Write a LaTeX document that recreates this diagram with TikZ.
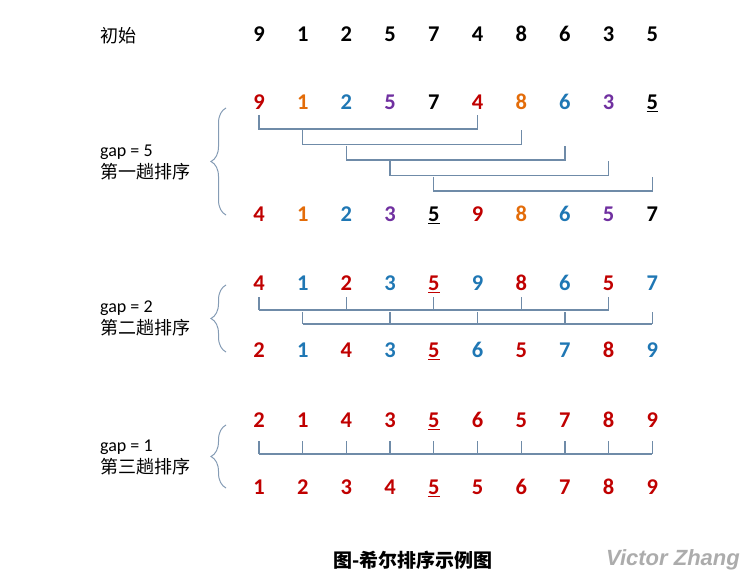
\documentclass[tikz,border=0pt]{standalone}
\usepackage{fontspec}
\setmainfont{Carlito}
\newfontfamily\cjk{Noto Sans CJK SC}
\newfontfamily\wmfont{Liberation Sans}
\usetikzlibrary{calc,decorations.pathreplacing}
\definecolor{numred}{HTML}{C00000}
\definecolor{numorange}{HTML}{E36C09}
\definecolor{numblue}{HTML}{1F77B4}
\definecolor{numpurple}{HTML}{7030A0}
\definecolor{linkgray}{HTML}{6F8BA8}
\newcommand\uln[1]{\underline{#1}}
\tikzset{
  num/.style={font=\fontsize{22.5}{22.5}\selectfont\bfseries, inner sep=0pt, text height=15pt, text depth=4pt},
  lbl/.style={font=\fontsize{18}{22}\selectfont, anchor=west, inner sep=0pt, align=left},
  link/.style={draw=linkgray, line width=1.3pt},
  grp/.style={draw=linkgray!85, line width=1pt, decorate, decoration={brace, amplitude=15pt, aspect=0.5}},
}

\begin{document}
\begin{tikzpicture}[x=1pt, y=-1pt]
  \useasboundingbox (0,0) rectangle (755,580);
  \coordinate (brx) at (226,0);

  % initial sequence
  \node[lbl] (init) at (100,36) {\cjk 初始};
  \foreach \v [count=\i] in {9,1,2,5,7,4,8,6,3,5}
    \node[num] (init-\i) at ({259+43.7*(\i-1)},36) {\v};

  % gap = 5
  \foreach \v/\c [count=\i] in {9/numred,1/numorange,2/numblue,5/numpurple,7/black,4/numred,8/numorange,6/numblue,3/numpurple,\uln{5}/black}
    \node[num, text=\c] (a-\i) at ({259+43.7*(\i-1)},104) {\v};
  \foreach \v/\c [count=\i] in {4/numred,1/numorange,2/numblue,3/numpurple,\uln{5}/black,9/numred,8/numorange,6/numblue,5/numpurple,7/black}
    \node[num, text=\c] (b-\i) at ({259+43.7*(\i-1)},216) {\v};
  \foreach \k [evaluate=\k as \j using int(\k+5), evaluate=\k as \dy using 11+15.5*(\k-1)] in {1,...,5}
    \draw[link] (a-\k) ++(0,\dy) -- ++(0,14) -| ($(a-\j)+(0,\dy)$);
  \draw[grp] ($(brx |- b-1)+(0,-1)$) -- ($(brx |- a-1)+(0,4)$);
  \node[lbl] (lbl-a) at (100,162) {gap = 5\\{\cjk 第一趟排序}};

  % gap = 2
  \foreach \v/\c [count=\i] in {4/numred,1/numblue,2/numred,3/numblue,\uln{5}/numred,9/numblue,8/numred,6/numblue,5/numred,7/numblue}
    \node[num, text=\c] (c-\i) at ({259+43.7*(\i-1)},285) {\v};
  \foreach \v/\c [count=\i] in {2/numred,1/numblue,4/numred,3/numblue,\uln{5}/numred,6/numblue,5/numred,7/numblue,8/numred,9/numblue}
    \node[num, text=\c] (d-\i) at ({259+43.7*(\i-1)},352) {\v};
  \draw[link] ($(c-1)+(0,25)$) -- ($(c-9)+(0,25)$);
  \draw[link] ($(c-2)+(0,39)$) -- ($(c-10)+(0,39)$);
  \foreach \i in {1,3,...,9}
    \draw[link] (c-\i) ++(0,12) -- ++(0,13);
  \foreach \i in {2,4,...,10}
    \draw[link] (c-\i) ++(0,27) -- ++(0,12);
  \draw[grp] (brx |- d-1) -- (brx |- c-1);
  \node[lbl] (lbl-c) at (100,318) {gap = 2\\{\cjk 第二趟排序}};

  % gap = 1
  \foreach \v [count=\i] in {2,1,4,3,\uln{5},6,5,7,8,9}
    \node[num, text=numred] (e-\i) at ({259+43.7*(\i-1)},422) {\v};
  \foreach \v [count=\i] in {1,2,3,4,\uln{5},5,6,7,8,9}
    \node[num, text=numred] (f-\i) at ({259+43.7*(\i-1)},489) {\v};
  \draw[link] ($(e-1)+(0,32)$) -- ($(e-10)+(0,32)$);
  \foreach \i in {1,...,10}
    \draw[link] (e-\i) ++(0,19) -- ++(0,13);
  \draw[grp] ($(brx |- f-1)+(0,-1)$) -- ($(brx |- e-1)+(0,3)$);
  \node[lbl] (lbl-e) at (100,457) {gap = 1\\{\cjk 第三趟排序}};

  \node[font=\cjk\bfseries\fontsize{19}{19}\selectfont] (caption) at (413,560) {图-希尔排序示例图};
  \node[font=\wmfont\bfseries\itshape\fontsize{22}{22}\selectfont, text=gray!65] (mark) at (673,560) {Victor Zhang};
\end{tikzpicture}
\end{document}
